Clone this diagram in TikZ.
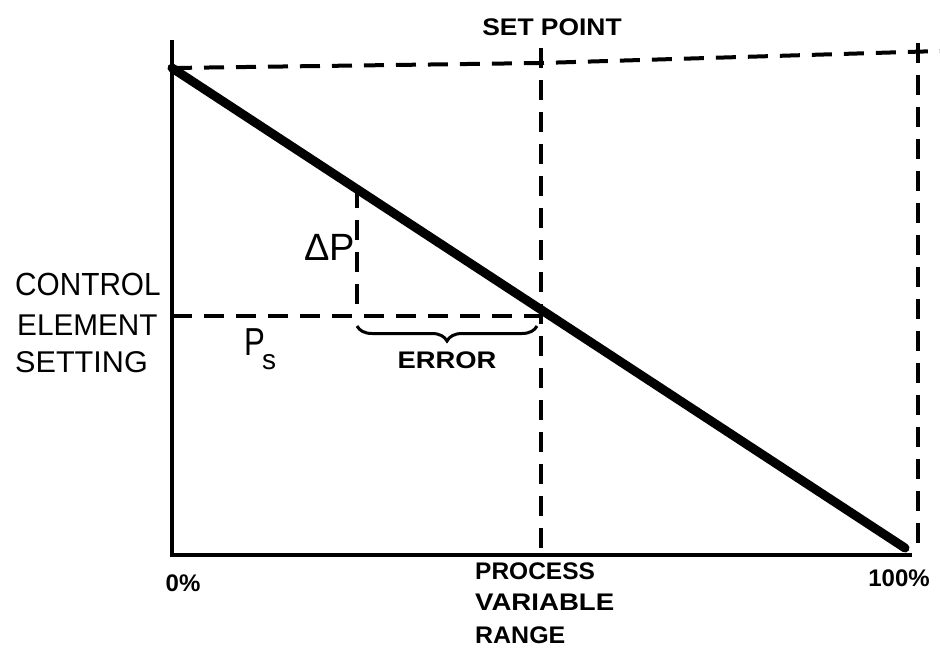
\documentclass[tikz,border=0pt]{standalone}
\usepackage{fontspec}
\setmainfont{Liberation Sans}
\usetikzlibrary{decorations.pathreplacing}
\tikzset{
  axis/.style={line width=4.5pt},
  ramp/.style={line width=9pt, line cap=round},
  guide/.style={line width=4pt, dash pattern=on 20pt off 12pt},
  bold label/.style={font=\bfseries\fontsize{24}{28}\selectfont, inner sep=0pt},
  hand label/.style={inner sep=0pt, anchor=base west},
}
\begin{document}
\begin{tikzpicture}[x=1pt,y=-1pt]
\useasboundingbox (0,0) rectangle (940,667);
% key points
\coordinate (O) at (172,555);
\coordinate (ytop) at (172,40);
\coordinate (xend) at (912,555);
\coordinate (A) at (172,68);
\coordinate (B) at (905,548);
\coordinate (sptop) at (541,48);
\coordinate (spbot) at (541,555);
\coordinate (topmid) at (541,63);
\coordinate (topend) at (940,51);
\coordinate (rtop) at (918,43);
\coordinate (rbot) at (918,548);
\coordinate (ps) at (172,316);
\coordinate (spmid) at (541,316);
\coordinate (dptop) at (357,188);
\coordinate (dpbot) at (357,316);
\coordinate (brl) at (357,326);
\coordinate (brr) at (537,326);
% axes
\draw[axis] (ytop) -- (O) -- (xend);
% dashed guides
\draw[guide] (A) -- (topmid) -- (topend);
\draw[guide] (sptop) -- (spbot);
\draw[guide] (rtop) -- (rbot);
\draw[guide] (ps) -- (spmid);
\draw[guide] (dptop) -- (dpbot);
% brace
\draw[line width=3pt, decorate, decoration={brace, mirror, amplitude=15pt}] (brl) -- (brr);
% characteristic line
\draw[ramp] (A) -- (B);
% labels
\node[bold label] (setpoint) at (552,27) {\scalebox{1.1}[1]{SET POINT}};
\node[bold label] (zero) at (183,583) {0\%};
\node[bold label] (hundred) at (899,578) {100\%};
\node[bold label, anchor=west] (process) at (475,571) {\scalebox{1.02}[1]{PROCESS}};
\node[bold label, anchor=west] (variable) at (475,602) {\scalebox{1.15}[1]{VARIABLE}};
\node[bold label, anchor=west] (range) at (475,635) {\scalebox{1.04}[1]{RANGE}};
\node[bold label] (error) at (447,360) {\scalebox{1.14}[1]{ERROR}};
\node[font=\fontsize{38}{40}\selectfont, inner sep=0pt, anchor=base west] (dp) at (304,260) {ΔP};
\node[inner sep=0pt, anchor=base west] (psl) at (244,355)
  {\fontsize{39}{40}\selectfont\scalebox{0.8}[1]{P}\kern-3pt\raisebox{-14pt}{\fontsize{28}{30}\selectfont s}};
\node[hand label, font=\fontsize{32}{34}\selectfont] (control) at (15,295) {\scalebox{0.93}[1]{CONTROL}};
\node[hand label, font=\fontsize{30}{32}\selectfont] (element) at (17,335) {\scalebox{0.99}[1]{ELEMENT}};
\node[hand label, font=\fontsize{30}{32}\selectfont] (setting) at (15,372) {\scalebox{1.02}[1]{SETTING}};
\end{tikzpicture}
\end{document}
